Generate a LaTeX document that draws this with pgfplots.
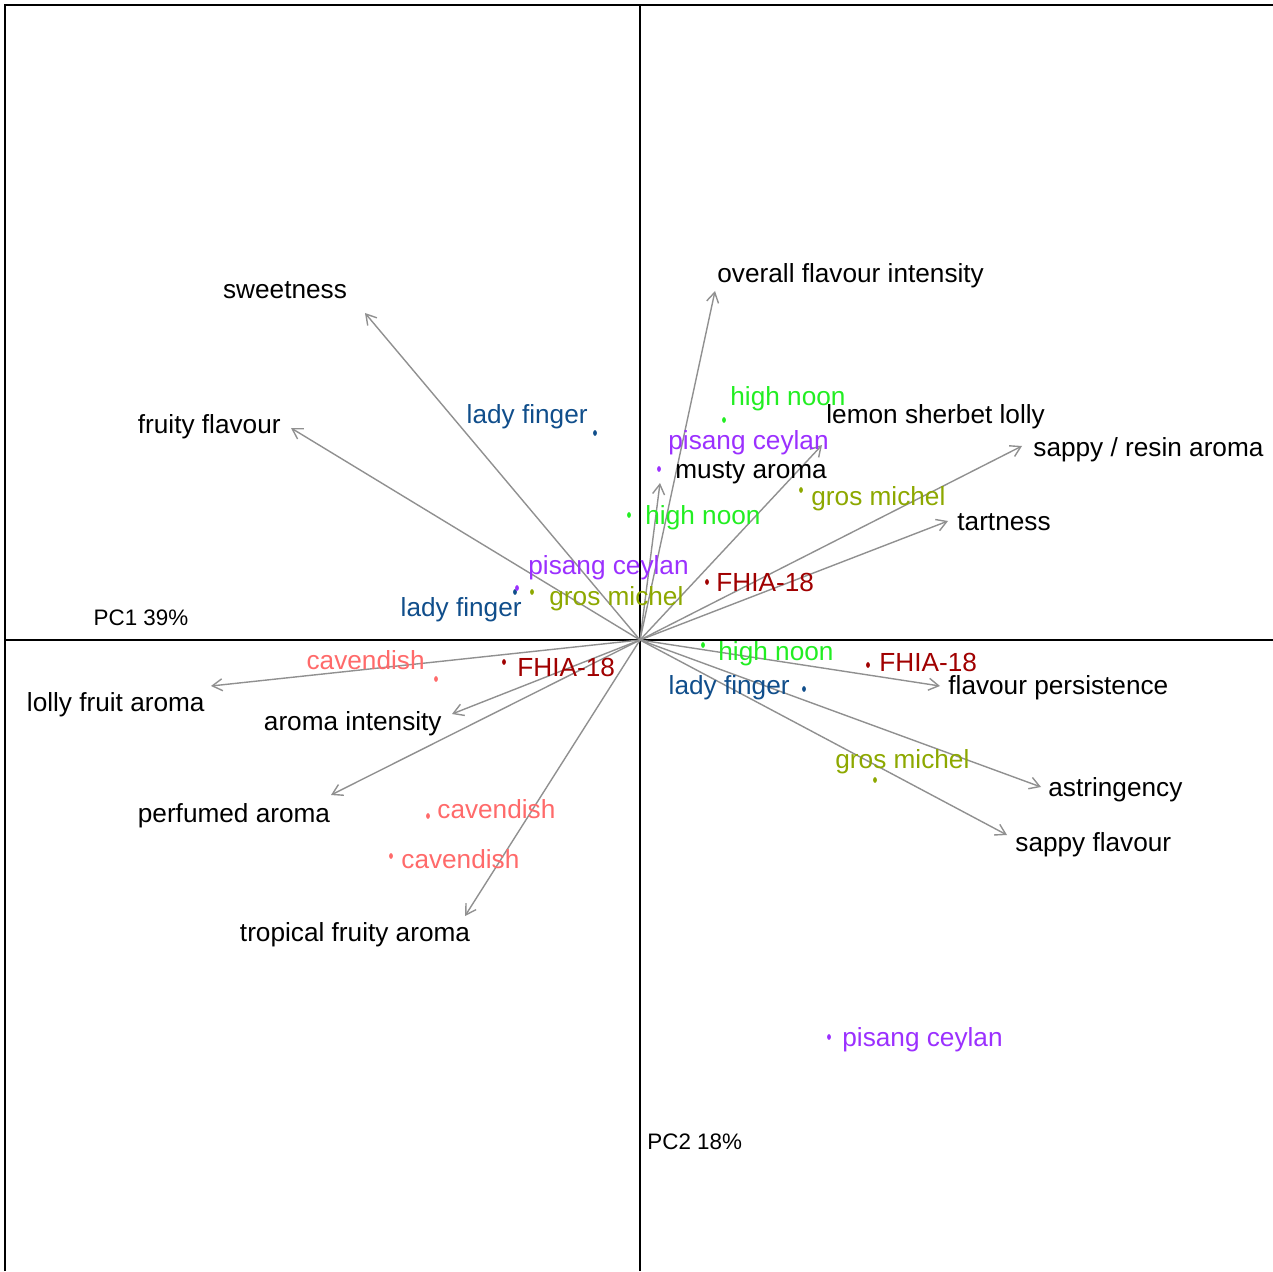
\documentclass[border=0pt]{standalone}
\usepackage{pgfplots}
\pgfplotsset{compat=1.18}
\usepackage{fontspec}
\setmainfont{Liberation Sans}
\usetikzlibrary{arrows.meta}

\definecolor{ladyfinger}{HTML}{104E8B}
\definecolor{highnoon}{HTML}{22EE22}
\definecolor{pisang}{HTML}{9B30FF}
\definecolor{grosmichel}{HTML}{8DA800}
\definecolor{fhia}{HTML}{A00000}
\definecolor{cavendish}{HTML}{FF6A6A}
\definecolor{loadgray}{HTML}{909090}

\tikzset{lab/.style={font=\fontsize{13.1}{15}\selectfont, inner sep=0pt, text height=0.75em, text depth=0.25em, yshift=-1.8pt}}

\begin{document}
\begin{tikzpicture}
\begin{axis}[
  scale only axis, width=636.5pt, height=635.5pt,
  xmin=-640, xmax=633, ymin=-631, ymax=640,
  hide axis, clip=false,
  load/.style={loadgray, line width=0.7pt, -{Straight Barb[length=5pt,width=6pt]}},
  score/.style={only marks, mark=*, mark size=1.2pt, mark options={xscale=0.6}},
]
% frame and axes through the origin
\addplot[black, line width=0.65pt] coordinates {(-635,-631) (-635,635) (633,635)};
\addplot[black, line width=0.65pt] coordinates {(-635,0) (633,0)};
\addplot[black, line width=0.65pt] coordinates {(0,-631) (0,635)};

% variable loadings
\addplot[load] coordinates {(0,0) (-275,327)};
\addplot[load] coordinates {(0,0) (-349,212)};
\addplot[load] coordinates {(0,0) (75,349)};
\addplot[load] coordinates {(0,0) (20,157)};
\addplot[load] coordinates {(0,0) (182,195)};
\addplot[load] coordinates {(0,0) (382,194)};
\addplot[load] coordinates {(0,0) (308,119)};
\addplot[load] coordinates {(0,0) (300,-46)};
\addplot[load] coordinates {(0,0) (401,-147)};
\addplot[load] coordinates {(0,0) (367,-195)};
\addplot[load] coordinates {(0,0) (-175,-276)};
\addplot[load] coordinates {(0,0) (-309,-155)};
\addplot[load] coordinates {(0,0) (-188,-74)};
\addplot[load] coordinates {(0,0) (-429,-46)};

\node[lab, anchor=center] at (axis cs:-355,350) {sweetness};
\node[lab, anchor=east]   at (axis cs:-359,215) {fruity flavour};
\node[lab, anchor=west]   at (axis cs:77,366) {overall flavour intensity};
\node[lab, anchor=west]   at (axis cs:35,170) {musty aroma};
\node[lab, anchor=west]   at (axis cs:186,225) {lemon sherbet lolly};
\node[lab, anchor=west]   at (axis cs:393,192) {sappy / resin aroma};
\node[lab, anchor=west]   at (axis cs:317,118) {tartness};
\node[lab, anchor=west]   at (axis cs:308,-46) {flavour persistence};
\node[lab, anchor=west]   at (axis cs:408,-148) {astringency};
\node[lab, anchor=west]   at (axis cs:375,-203) {sappy flavour};
\node[lab, anchor=center] at (axis cs:-285,-293) {tropical fruity aroma};
\node[lab, anchor=center] at (axis cs:-406,-174) {perfumed aroma};
\node[lab, anchor=east]   at (axis cs:-198,-82) {aroma intensity};
\node[lab, anchor=east]   at (axis cs:-435,-63) {lolly fruit aroma};

% sample scores
\addplot[score, ladyfinger] coordinates {(-45,207) (-125,48) (164,-49)};
\addplot[score, highnoon]   coordinates {(84,220) (-11,125) (63,-5)};
\addplot[score, pisang]     coordinates {(19,171) (-123,52) (189,-397)};
\addplot[score, grosmichel] coordinates {(161,150) (-108,48) (235,-140)};
\addplot[score, fhia]       coordinates {(67,58) (-136,-22) (228,-25)};
\addplot[score, cavendish]  coordinates {(-204,-39) (-212,-176) (-249,-216)};

\node[lab, anchor=east, ladyfinger] at (axis cs:-52,225) {lady finger};
\node[lab, anchor=east, ladyfinger] at (axis cs:-118,32) {lady finger};
\node[lab, anchor=east, ladyfinger] at (axis cs:150,-46) {lady finger};
\node[lab, anchor=west, highnoon] at (axis cs:90,243) {high noon};
\node[lab, anchor=west, highnoon] at (axis cs:5,124) {high noon};
\node[lab, anchor=west, highnoon] at (axis cs:78,-12) {high noon};
\node[lab, anchor=west, pisang] at (axis cs:28,199) {pisang ceylan};
\node[lab, anchor=west, pisang] at (axis cs:-112,74) {pisang ceylan};
\node[lab, anchor=west, pisang] at (axis cs:202,-398) {pisang ceylan};
\node[lab, anchor=west, grosmichel] at (axis cs:171,143) {gros michel};
\node[lab, anchor=west, grosmichel] at (axis cs:-91,43) {gros michel};
\node[lab, anchor=west, grosmichel] at (axis cs:195,-120) {gros michel};
\node[lab, anchor=west, fhia] at (axis cs:76,57) {FHIA-18};
\node[lab, anchor=west, fhia] at (axis cs:-123,-28) {FHIA-18};
\node[lab, anchor=west, fhia] at (axis cs:239,-23) {FHIA-18};
\node[lab, anchor=east, cavendish] at (axis cs:-215,-21) {cavendish};
\node[lab, anchor=west, cavendish] at (axis cs:-203,-170) {cavendish};
\node[lab, anchor=west, cavendish] at (axis cs:-239,-220) {cavendish};

% component labels
\node[lab, anchor=center, font=\fontsize{11.2}{13}\selectfont] at (axis cs:-499,23) {PC1 39\%};
\node[lab, anchor=west, font=\fontsize{11.2}{13}\selectfont] at (axis cs:7,-501) {PC2 18\%};
\end{axis}
\pgfresetboundingbox
\path[use as bounding box] (current axis.south west) rectangle (current axis.north east);
\end{tikzpicture}
\end{document}
